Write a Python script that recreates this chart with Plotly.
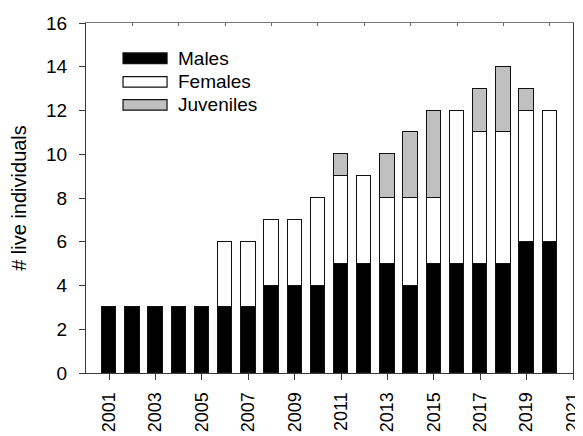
import plotly.graph_objects as go

years = list(range(2001, 2021))
males = [3, 3, 3, 3, 3, 3, 3, 4, 4, 4, 5, 5, 5, 4, 5, 5, 5, 5, 6, 6]
females = [0, 0, 0, 0, 0, 3, 3, 3, 3, 4, 4, 4, 3, 4, 3, 7, 6, 6, 6, 6]
juveniles = [0, 0, 0, 0, 0, 0, 0, 0, 0, 0, 1, 0, 2, 3, 4, 0, 2, 3, 1, 0]
series_names = ["Males", "Females", "Juveniles"]
colors = ["#000000", "#ffffff", "#c0c0c0"]
x_ticks_bottom = list(range(2001, 2022, 2))
x_ticks_top = list(range(2002, 2021, 2))
y_ticks = list(range(0, 17, 2))

# page has an 8px body margin; figure is sized to fill the 583x436 window
OFF = 8
W, H = 583 - OFF, 436 - OFF
PL, PR, PT, PB = 86, 572.7, 22.7, 373.3  # plot area in page pixels
L, R, T, B = PL - OFF, W - (PR - OFF), PT - OFF, H - (PB - OFF)
pw, ph = PR - PL, PB - PT

FONT = "Liberation Sans, Arial, sans-serif"
AX = "#3a3a3a"
FS = 19

def nz(v):
    return [val if val else None for val in v]

fig = go.Figure()
for name, vals, col in zip(series_names, [males, females, juveniles], colors):
    fig.add_trace(go.Bar(
        x=years, y=nz(vals), name=name, width=0.62,
        marker=dict(color=col, line=dict(color="#111111", width=1.5)),
        showlegend=False,
    ))

# invisible trace to anchor the top axis
fig.add_trace(go.Scatter(x=[years[0]], y=[None], xaxis="x2", yaxis="y",
                         showlegend=False, hoverinfo="skip", mode="markers"))

fig.update_layout(
    width=W, height=H,
    margin=dict(l=L, r=R, t=T, b=B, autoexpand=False),
    paper_bgcolor="white", plot_bgcolor="white",
    barmode="stack", bargap=0,
    font=dict(family=FONT, size=FS, color="#000000"),
    xaxis=dict(
        range=[2000, 2021.0001], tickmode="array", tickvals=x_ticks_bottom,
        ticktext=[str(v) for v in x_ticks_bottom], tickangle=-90,
        ticks="outside", ticklen=6, tickcolor=AX, tickwidth=1,
        ticklabelstandoff=5, ticklabeloverflow="allow",
        showline=True, linecolor=AX, linewidth=1.2,
        showgrid=False, zeroline=False, fixedrange=True,
        tickfont=dict(size=18),
    ),
    xaxis2=dict(
        range=[2000, 2021.0001], overlaying="x", side="top", anchor="y",
        tickmode="array", tickvals=x_ticks_top, showticklabels=False,
        ticks="inside", ticklen=3, tickcolor="#666666",
        showline=True, linecolor="#777777", linewidth=1.2,
        showgrid=False, zeroline=False,
    ),
    yaxis=dict(
        range=[0, 16], tickmode="array", tickvals=y_ticks,
        ticks="outside", ticklen=6, tickcolor=AX, tickwidth=1,
        ticklabelstandoff=8,
        showline=True, linecolor=AX, linewidth=1.2, mirror=True,
        showgrid=False, zeroline=False,
        tickfont=dict(size=FS),
        title=dict(text="# live individuals", font=dict(size=20), standoff=18),
    ),
)

# custom legend (wide swatches, as in the original)
def px_x(p):
    return (p - PL) / pw

def px_y(p):
    return 1 - (p - PT) / ph

legend_rows = [(52.7, 63.3), (76.5, 87.0), (99.5, 110.0)]
for (y0, y1), name, col in zip(legend_rows, series_names, colors):
    fig.add_shape(type="rect", xref="paper", yref="paper",
                  x0=px_x(123), x1=px_x(167), y0=px_y(y1), y1=px_y(y0),
                  fillcolor=col, line=dict(color="#111111", width=1.2))
    fig.add_annotation(xref="paper", yref="paper", x=px_x(176), y=px_y((y0 + y1) / 2),
                       text=name, showarrow=False, xanchor="left", yanchor="middle",
                       font=dict(size=FS, family=FONT))

fig.write_html("out.html")
